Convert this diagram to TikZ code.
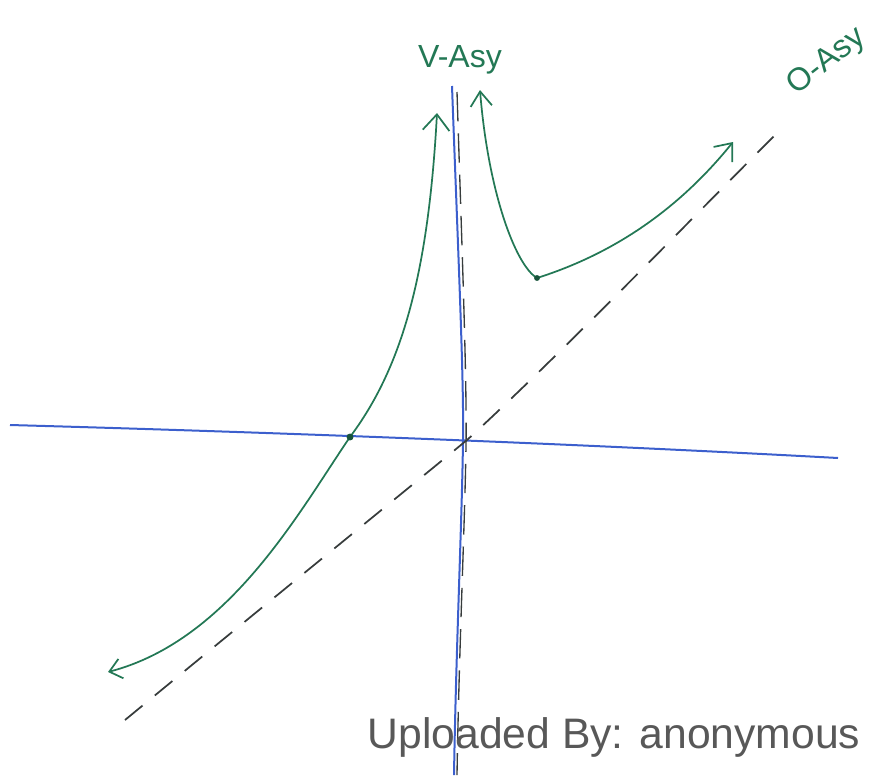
\documentclass[tikz,border=0pt]{standalone}
\usepackage{fontspec}
\setmainfont{Liberation Sans}
\usetikzlibrary{arrows.meta}
\definecolor{penGreen}{RGB}{35,120,85}
\definecolor{axisBlue}{RGB}{60,95,205}
\definecolor{pencil}{RGB}{55,60,60}
\definecolor{stampGray}{RGB}{88,88,88}

\tikzset{
  axisline/.style={axisBlue, line width=1.5pt},
  branch/.style={penGreen, line width=1.3pt, line cap=round},
  asym/.style={pencil, line width=1.3pt, dash pattern=on 17pt off 12pt},
  hand/.style={penGreen, font=\fontsize{24}{24}\selectfont},
}

\begin{document}
\begin{tikzpicture}[x=0.75pt,y=-0.75pt]
\useasboundingbox (0,0) rectangle (888,775);
% axes
\draw[axisline] (10,425) .. controls (300,433) and (600,445) .. (838,458);
\draw[axisline] (452,86) .. controls (458,250) and (464,380) .. (463,440)
  .. controls (462,520) and (456,650) .. (454,775);
% asymptotes
\draw[pencil, line width=1pt, dash pattern=on 22pt off 9pt] (457,92) .. controls (462,250) and (467,380) .. (466,445)
  .. controls (465,520) and (459,650) .. (457,775);
\draw[asym] (125,720) .. controls (250,617) and (400,495) .. (467,440)
  .. controls (560,355) and (700,210) .. (782,128);
% graph
\draw[branch, {Straight Barb[length=12pt,width=20pt]}-{Straight Barb[length=9pt,width=15pt]}]
  (437,113) .. controls (428,280) and (400,370) .. (350,437)
  .. controls (300,510) and (230,640) .. (108,672);
\draw[branch, {Straight Barb[length=11pt,width=16pt]}-{Straight Barb[length=11pt,width=18pt]}]
  (480,90) .. controls (488,190) and (515,265) .. (537,278)
  .. controls (600,258) and (670,220) .. (733,142);
\fill[penGreen!70!black] (350,437) circle (2.6pt);
\fill[penGreen!70!black] (537,278) circle (2.2pt);
% labels
\node[hand] (vasy) at (460,60) {V-Asy};
\node[hand, rotate=38] (oasy) at (827,62) {O-Asy};
\node[stampGray, anchor=base west, font=\fontsize{32}{32}\selectfont] (stamp) at (363,748) {Uploaded By: anonymous};
\end{tikzpicture}
\end{document}
